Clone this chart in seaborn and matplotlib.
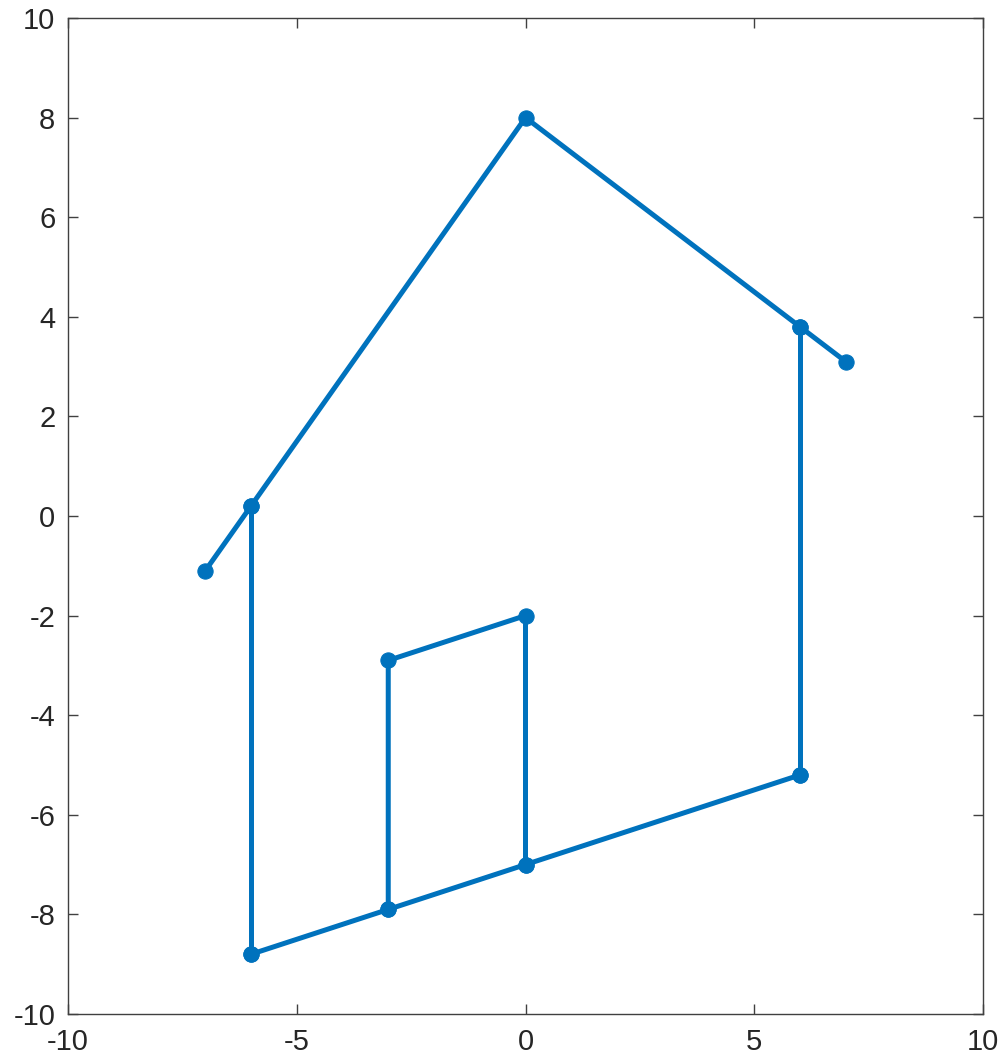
import matplotlib
matplotlib.use("Agg")
import matplotlib.pyplot as plt
import seaborn as sns
import pandas as pd

# House outline, drawn as separate polyline segments
roof_x = [-7, -6, 0, 6, 7]
roof_y = [-1.1, 0.2, 8, 3.8, 3.1]

left_wall_x = [-6, -6]
left_wall_y = [0.2, -8.8]

floor_x = [-6, -3, 0, 6]
floor_y = [-8.8, -7.9, -7.0, -5.2]

right_wall_x = [6, 6]
right_wall_y = [-5.2, 3.8]

door_x = [-3, -3, 0, 0]
door_y = [-7.9, -2.9, -2.0, -7.0]

segments = {
    "roof": (roof_x, roof_y),
    "left_wall": (left_wall_x, left_wall_y),
    "floor": (floor_x, floor_y),
    "right_wall": (right_wall_x, right_wall_y),
    "door": (door_x, door_y),
}

rows = []
for name, (xs, ys) in segments.items():
    for i, (xv, yv) in enumerate(zip(xs, ys)):
        rows.append({"seg": name, "order": i, "x": xv, "y": yv})
df = pd.DataFrame(rows)

sns.set_style("white")
plt.rcParams["font.family"] = ["Liberation Sans", "DejaVu Sans"]
plt.rcParams["axes.unicode_minus"] = False

fig = plt.figure(figsize=(10.03, 10.58), dpi=100)
ax = fig.add_axes([68 / 1003, 1 - 1014 / 1058, (983 - 68) / 1003, (1014 - 18) / 1058])

color = "#0072BD"
sns.lineplot(data=df, x="x", y="y", units="seg", estimator=None, sort=False,
             color=color, linewidth=3.6, marker="o", markersize=11,
             markeredgecolor=color, markerfacecolor=color, ax=ax, legend=False)

ax.set_xlim(-10, 10)
ax.set_ylim(-10, 10)
ax.set_xticks([-10, -5, 0, 5, 10])
ax.set_yticks(list(range(-10, 11, 2)))
ax.set_xlabel("")
ax.set_ylabel("")

for side in ["left", "right", "top", "bottom"]:
    ax.spines[side].set_visible(True)
    ax.spines[side].set_color("#404040")
    ax.spines[side].set_linewidth(1.0)

ax.tick_params(direction="in", length=7, width=1.0, color="#404040",
               labelsize=21, labelcolor="#262626",
               top=True, right=True, bottom=True, left=True)
ax.tick_params(axis="x", pad=10)
ax.tick_params(axis="y", pad=9)

fig.savefig("out.png", dpi=100, facecolor="white")
